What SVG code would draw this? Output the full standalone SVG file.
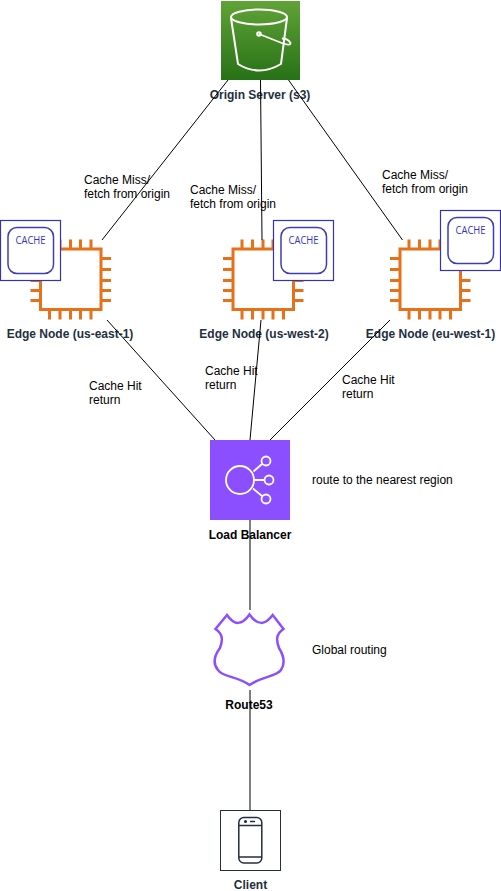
<svg xmlns="http://www.w3.org/2000/svg" width="501" height="891" viewBox="0 0 501 891">
<defs>
<linearGradient id="g" x1="0" y1="1" x2="0" y2="0"><stop offset="0" stop-color="#277116"/><stop offset="1" stop-color="#60a337"/></linearGradient>
<g id="chip" fill="none" stroke="#e7711b" stroke-width="3">
<rect x="-30" y="-30.500" width="60.500" height="60.500"/>
<path d="M-21-30.500v-9.500M-10.500-30.500v-9.500M0-30.500v-9.500M10-30.500v-9.500M20.500-30.500v-9.500M-21 30v10M-10.500 30v10M0 30v10M10 30v10M20.500 30v10M-30-21h-10M-30-10h-10M-30 1h-10M-30 11h-10M-30 21h-10M30.500-21h10M30.500-10h10M30.500 1h10M30.500 11h10M30.500 21h10"/>
</g>
<g id="cache">
<rect x="0" y="0" width="60" height="60" fill="#fff" stroke="#3333b3" stroke-width="1.200"/>
<rect x="7.500" y="7" width="45.500" height="46" rx="9" fill="#fff" stroke="#3d3dbb" stroke-width="1.500"/>
<text x="15" y="23" font-family="'Open Sans','Noto Sans',sans-serif" font-size="11" textLength="30" lengthAdjust="spacingAndGlyphs" fill="#3333c0">CACHE</text>
</g>
</defs>
<style>
.l{font-family:'Liberation Sans',Arial,sans-serif;font-size:12px;fill:#000}
.b{font-family:'Liberation Sans',Arial,sans-serif;font-size:12px;font-weight:700;fill:#232f3e;text-anchor:middle}
.c{fill:none;stroke:#000;stroke-width:1}
</style>
<rect width="501" height="891" fill="#fff"/>
<g id="origin">
<rect x="221" y="1" width="79" height="79" fill="url(#g)"/>
<g fill="none" stroke="#fff" stroke-width="2">
<ellipse cx="259" cy="17" rx="28" ry="7.500"/>
<path d="M231 18L238 64Q259 77 281 64L287 18"/>
<path d="M259 34L283 43.500Q291 46 290.500 43Q288 38.500 282 38.500" stroke-width="1.800"/>
<circle cx="259" cy="34" r="1.800"/>
</g>
<text class="b" x="260" y="99">Origin Server (s3)</text>
</g>
<g id="edge-east">
<use href="#chip" x="70.500" y="279.500"/>
<use href="#cache" x="0.500" y="220.500"/>
<text class="b" x="70" y="338">Edge Node (us-east-1)</text>
</g>
<g id="edge-west">
<use href="#chip" x="263" y="279.500"/>
<use href="#cache" x="273.500" y="220.500"/>
<text class="b" x="264" y="338">Edge Node (us-west-2)</text>
</g>
<g id="edge-eu">
<use href="#chip" x="430" y="279.500"/>
<use href="#cache" x="440.500" y="210.500"/>
<text class="b" x="430.500" y="338">Edge Node (eu-west-1)</text>
</g>
<g id="labels">
<text class="l"><tspan x="84" y="184">Cache Miss/</tspan><tspan x="84" y="198">fetch from origin</tspan></text>
<text class="l"><tspan x="190" y="194">Cache Miss/</tspan><tspan x="190" y="208">fetch from origin</tspan></text>
<text class="l"><tspan x="382" y="179">Cache Miss/</tspan><tspan x="382" y="193">fetch from origin</tspan></text>
<text class="l"><tspan x="89" y="390">Cache Hit</tspan><tspan x="89" y="404">return</tspan></text>
<text class="l"><tspan x="205" y="375">Cache Hit</tspan><tspan x="205" y="389">return</tspan></text>
<text class="l"><tspan x="342" y="384">Cache Hit</tspan><tspan x="342" y="398">return</tspan></text>
<text class="l" x="312" y="484">route to the nearest region</text>
<text class="l" x="312" y="654">Global routing</text>
</g>
<g id="load-balancer">
<rect x="210" y="440" width="80" height="80" fill="#8c4fff"/>
<g fill="none" stroke="#fff" stroke-width="1.800">
<circle cx="240" cy="480" r="14"/>
<circle cx="266" cy="461" r="4.500"/><circle cx="269" cy="480" r="4.500"/><circle cx="266" cy="499" r="4.500"/>
<path d="M253.500 471.500L262 464M254 480H264.500M253 488.500L262 496"/>
</g>
<text class="b" x="250" y="539" style="fill:#000">Load Balancer</text>
</g>
<g id="route53">
<path d="M227 615Q238 631 249.500 614.500Q261 631 272.700 615L283.500 629C276 634 276 640 279 648C284 656 285 664 281 670C276 677 262 676 249.500 685C237 676 222 677 218 670C213 664 214 656 220 648C223 640 223 634 215.500 629Z" fill="#fff" stroke="#8c4fff" stroke-width="2.500"/>
<text class="b" x="249" y="709" style="fill:#000">Route53</text>
</g>
<g id="client">
<rect x="220.500" y="810.500" width="60" height="60" fill="#fff" stroke="#232f3e" stroke-width="1"/>
<g fill="none" stroke="#232f3e" stroke-width="1.500">
<rect x="238.800" y="817.500" width="23" height="45.500" rx="5"/>
<path d="M238.800 825.500H261.800M238.800 857H261.800"/>
<path d="M250 821.500H255"/>
<circle cx="245.500" cy="821.500" r="0.800"/>
</g>
<text class="b" x="250.500" y="889">Client</text>
</g>
<g id="connectors">
<path class="c" d="M228 80L102 240M260.500 80L262 240M288.500 80L402.500 240M107 320L215 440M261 320L250 440M390 320L270 440M250 520V610M250 690V810"/>
</g>
</svg>
